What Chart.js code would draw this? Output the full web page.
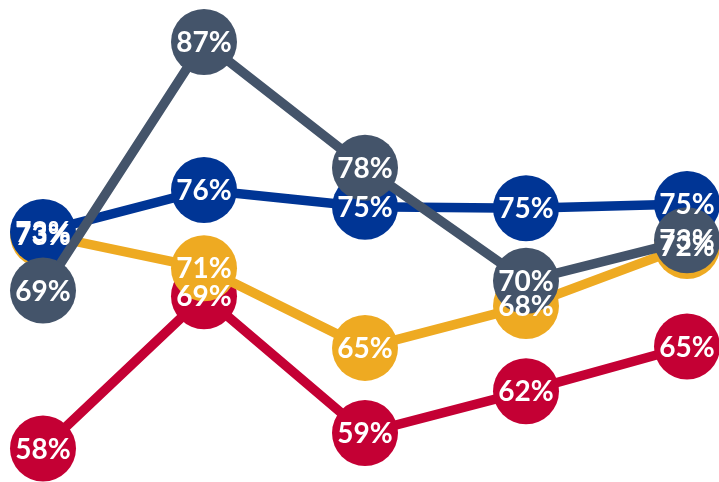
<!DOCTYPE html>
<html>
<head>
<meta charset="utf-8">
<script src="https://cdn.jsdelivr.net/npm/chart.js@4.4.0/dist/chart.umd.min.js"></script>
<style>
  html, body { margin: 0; padding: 0; background: #ffffff; }
  #wrap { width: 719px; height: 482px; position: relative; }
</style>
</head>
<body>
<div id="wrap"><canvas id="c"></canvas></div>
<script>
const categories = ["P1", "P2", "P3", "P4", "P5"];
const blueValues   = [73.4, 76.4, 75.2, 75.1, 75.4];
const yellowValues = [73.2, 70.8, 65.1, 68.1, 72.4];
const redValues    = [57.9, 68.8, 59.0, 62.0, 65.2];
const grayValues   = [69.2, 87.0, 78.0, 69.9, 72.8];

const BLUE = "#003595", YELLOW = "#EEAA22", RED = "#C40034", GRAY = "#44546A";

function ds(data, color, order) {
  return {
    data: data,
    borderColor: color,
    backgroundColor: color,
    pointBackgroundColor: color,
    pointBorderWidth: 0,
    pointRadius: 33,
    pointHoverRadius: 33,
    borderWidth: 9.5,
    tension: 0,
    order: order,
    clip: false
  };
}

const labelPlugin = {
  id: "pctLabels",
  afterDatasetsDraw(chart) {
    const ctx = chart.ctx;
    ctx.save();
    ctx.fillStyle = "#ffffff";
    ctx.font = "bold 28px Lato, 'Open Sans', sans-serif";
    ctx.textAlign = "center";
    ctx.textBaseline = "middle";
    [3, 2, 1, 0].forEach(i => {
      const meta = chart.getDatasetMeta(i);
      const d = chart.data.datasets[i].data;
      meta.data.forEach((pt, j) => {
        ctx.fillText(Math.round(d[j]) + "%", pt.x, pt.y + 1);
      });
    });
    ctx.restore();
  }
};

new Chart(document.getElementById("c"), {
  type: "line",
  data: {
    labels: categories,
    datasets: [
      ds(grayValues, GRAY, 0),
      ds(blueValues, BLUE, 1),
      ds(yellowValues, YELLOW, 2),
      ds(redValues, RED, 3)
    ]
  },
  options: {
    responsive: true,
    maintainAspectRatio: false,
    animation: false,
    layout: { autoPadding: false, padding: { left: 43, right: 32, top: 0, bottom: 0 } },
    plugins: { legend: { display: false }, tooltip: { enabled: false } },
    scales: {
      x: { display: false, offset: false },
      y: { display: false, min: 55.5, max: 90 }
    }
  },
  plugins: [labelPlugin]
});
</script>
</body>
</html>
